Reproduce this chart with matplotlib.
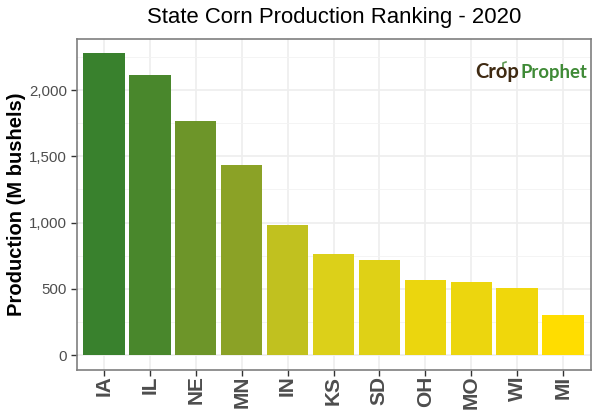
#!/usr/bin/env python3

import matplotlib

matplotlib.use("Agg")
import matplotlib.pyplot as plt
from matplotlib.colors import LinearSegmentedColormap, Normalize
from matplotlib.lines import Line2D
from matplotlib.ticker import FuncFormatter

plt.rcParams["font.family"] = ["Liberation Sans", "DejaVu Sans"]

STATES = ["IA", "IL", "NE", "MN", "IN", "KS", "SD", "OH", "MO", "WI", "MI"]
PRODUCTION = [2279, 2117, 1766, 1434, 981, 762, 717, 566, 551, 506, 302]
Y_TICKS = [0, 500, 1000, 1500, 2000]

# low production is yellow, high production is green
GRADIENT = ["#ffdd00", "#d9cf1b", "#98a825", "#6b9429", "#39812d"]

cmap = LinearSegmentedColormap.from_list("corn", GRADIENT)
norm = Normalize(min(PRODUCTION), max(PRODUCTION))

fig = plt.figure(figsize=(6, 4.2), dpi=100)
ax = fig.add_axes([76.5 / 600, 1 - 370 / 420, 514 / 600, 331 / 420])

positions = range(1, len(STATES) + 1)
ax.bar(positions, PRODUCTION, width=0.9, color=[cmap(norm(v)) for v in PRODUCTION], zorder=3)

ax.set_xlim(0.4, 11.6)
ax.set_ylim(-113, 2385)
ax.set_xticks(list(positions))
ax.set_xticklabels(STATES, rotation=90, fontsize=15, fontweight="bold", color="#4d4d4d")
ax.set_yticks(Y_TICKS)
ax.yaxis.set_major_formatter(FuncFormatter(lambda v, _: f"{int(v):,}"))
ax.set_yticks([250, 750, 1250, 1750, 2250], minor=True)

ax.tick_params(axis="y", labelsize=10.8, labelcolor="#4d4d4d", color="#333333", length=4, width=1, pad=3)
ax.tick_params(axis="x", color="#333333", length=4, width=1, pad=0)
ax.tick_params(axis="y", which="minor", length=0)

ax.grid(True, which="major", color="#eeeeee", linewidth=1.2, zorder=0)
ax.grid(True, which="minor", axis="y", color="#f3f3f3", linewidth=0.6, zorder=0)
ax.set_axisbelow(True)

for spine in ax.spines.values():
    spine.set_color("#7f7f7f")
    spine.set_linewidth(1.2)

fig.text(334 / 600, 1 - 17.5 / 420, "State Corn Production Ranking - 2020", ha="center", va="center", fontsize=15.9)
fig.text(17 / 600, 1 - 204 / 420, "Production (M bushels)", rotation=90, ha="center", va="center", fontsize=14.5, fontweight="bold")

# logo
fig.text(475 / 600, 1 - 78 / 420, "Crop", color="#3f2a12", fontsize=14.5, fontweight="bold", family="Lato")
fig.text(520 / 600, 1 - 78 / 420, "Prophet", color="#3f8a36", fontsize=13.3, fontweight="bold", family="Lato")
fig.add_artist(Line2D([503 / 600, 503 / 600, 506 / 600], [1 - 68 / 420, 1 - 63 / 420, 1 - 62 / 420], color="#5f9a55", linewidth=1.2))

fig.savefig("out.png", dpi=100)
